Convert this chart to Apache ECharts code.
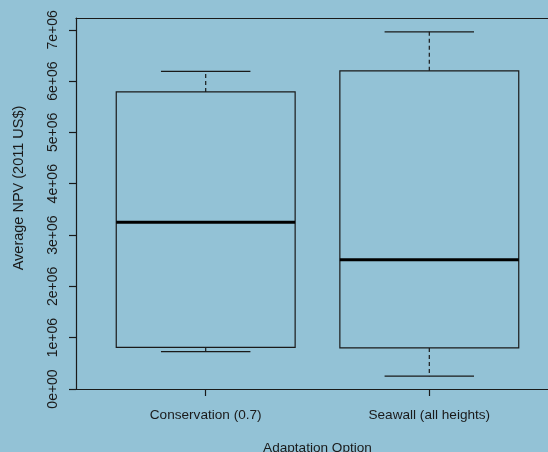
<!DOCTYPE html>
<html>
<head>
<meta charset="utf-8">
<script src="https://cdn.jsdelivr.net/npm/echarts@6/dist/echarts.min.js"></script>
<style>
  html, body { margin: 0; padding: 0; background: #93c2d6; }
  #chart { width: 548px; height: 452px; }
</style>
</head>
<body>
<div id="chart"></div>
<script>
// box statistics per adaptation option
const categories = ['Conservation (0.7)', 'Seawall (all heights)']
const lowerWhisker = [0.73e6, 0.25e6]
const q1 = [0.81e6, 0.80e6]
const median = [3.25e6, 2.52e6]
const q3 = [5.79e6, 6.20e6]
const upperWhisker = [6.19e6, 6.96e6]
const yTickLabels = ['0e+00', '1e+06', '2e+06', '3e+06', '4e+06', '5e+06', '6e+06', '7e+06']

const ink = '#1a1a1a'
const font = 'Liberation Sans, Arial, sans-serif'

const boxData = categories.map((c, i) => [
  i + 1, lowerWhisker[i], q1[i], median[i], q3[i], upperWhisker[i]
])

function renderBox(params, api) {
  const x = api.value(0)
  const pLow = api.coord([x, api.value(1)])
  const pQ1 = api.coord([x, api.value(2)])
  const pMed = api.coord([x, api.value(3)])
  const pQ3 = api.coord([x, api.value(4)])
  const pHigh = api.coord([x, api.value(5)])
  const halfBox = api.size([0.4, 0])[0]
  const halfCap = api.size([0.2, 0])[0]
  const cx = pMed[0]
  const solid = { stroke: ink, lineWidth: 1.2, fill: null }
  const dashed = { stroke: ink, lineWidth: 1.2, lineDash: [4, 3], fill: null }
  return {
    type: 'group',
    children: [
      { type: 'line', shape: { x1: cx, y1: pQ3[1], x2: cx, y2: pHigh[1] }, style: dashed },
      { type: 'line', shape: { x1: cx, y1: pQ1[1], x2: cx, y2: pLow[1] }, style: dashed },
      { type: 'line', shape: { x1: cx - halfCap, y1: pHigh[1], x2: cx + halfCap, y2: pHigh[1] }, style: solid },
      { type: 'line', shape: { x1: cx - halfCap, y1: pLow[1], x2: cx + halfCap, y2: pLow[1] }, style: solid },
      { type: 'rect', shape: { x: cx - halfBox, y: pQ3[1], width: halfBox * 2, height: pQ1[1] - pQ3[1] }, style: solid },
      { type: 'line', shape: { x1: cx - halfBox, y1: pMed[1], x2: cx + halfBox, y2: pMed[1] }, style: { stroke: '#000', lineWidth: 3 } }
    ]
  }
}

const chart = echarts.init(document.getElementById('chart'))

chart.setOption({
  backgroundColor: '#93c2d6',
  animation: false,
  grid: { left: 76, top: 18, width: 483, bottom: 63, outerBoundsMode: 'none', containLabel: false },
  graphic: [{
    type: 'text',
    x: 19,
    y: 188,
    rotation: Math.PI / 2,
    style: {
      text: 'Average NPV (2011 US$)',
      fill: ink,
      font: '14.5px ' + font,
      textAlign: 'center',
      textVerticalAlign: 'middle'
    }
  }],
  xAxis: [{
    type: 'value',
    min: 0.42,
    max: 2.58,
    position: 'bottom',
    name: 'Adaptation Option',
    nameLocation: 'middle',
    nameGap: 52,
    nameTextStyle: { color: ink, fontSize: 13.6, fontFamily: font },
    splitLine: { show: false },
    axisLine: { show: true, lineStyle: { color: ink, width: 1.2 } },
    axisTick: { show: true, customValues: [1, 2], length: 7, lineStyle: { color: ink, width: 1.2 } },
    axisLabel: {
      customValues: [1, 2],
      margin: 19,
      color: ink,
      fontSize: 13.6,
      fontFamily: font,
      formatter: v => categories[Math.round(v) - 1] || ''
    }
  }, {
    type: 'value',
    min: 0.42,
    max: 2.58,
    position: 'top',
    splitLine: { show: false },
    axisLine: { show: true, lineStyle: { color: ink, width: 1.2 } },
    axisTick: { show: false },
    axisLabel: { show: false }
  }],
  yAxis: {
    type: 'value',
    min: 0,
    max: 7.23e6,
    interval: 1e6,
    splitLine: { show: false },
    axisLine: { show: true, lineStyle: { color: ink, width: 1.2 } },
    axisTick: { show: true, length: 7, lineStyle: { color: ink, width: 1.2 } },
    axisLabel: {
      rotate: 90,
      margin: 16,
      color: ink,
      fontSize: 14,
      fontFamily: font,
      showMaxLabel: false,
      formatter: v => {
        const i = Math.round(v / 1e6)
        return Math.abs(v - i * 1e6) < 1 ? (yTickLabels[i] || '') : ''
      }
    }
  },
  series: [{
    type: 'custom',
    xAxisIndex: 0,
    renderItem: renderBox,
    encode: { x: 0, y: [1, 2, 3, 4, 5] },
    data: boxData
  }]
})
</script>
</body>
</html>
